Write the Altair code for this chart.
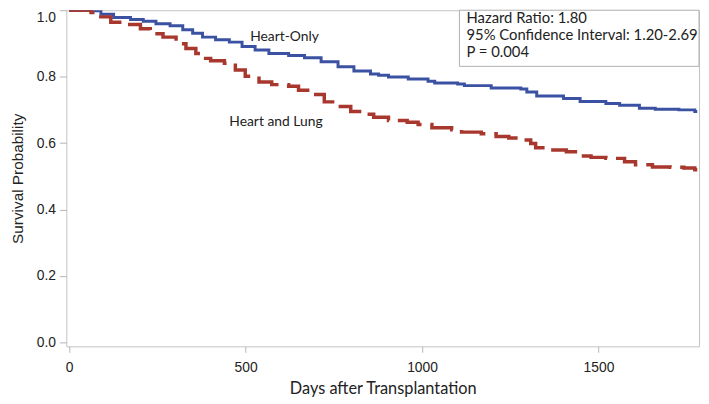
import altair as alt
import pandas as pd

# Kaplan-Meier breakpoints (days, survival)
heart_only_days = [0, 62, 90, 126, 174, 210, 246, 286, 322, 350, 378, 415, 454, 490, 527, 566,
                   622, 667, 714, 762, 807, 854, 877, 905, 961, 1017, 1036, 1101, 1120, 1196,
                   1280, 1297, 1325, 1401, 1448, 1521, 1560, 1616, 1661, 1728, 1773, 1780]
heart_only_surv = [1.0, 0.998, 0.988, 0.978, 0.972, 0.967, 0.959, 0.953, 0.941, 0.931, 0.919,
                   0.911, 0.904, 0.891, 0.880, 0.870, 0.864, 0.857, 0.845, 0.830, 0.817, 0.808,
                   0.804, 0.799, 0.793, 0.786, 0.781, 0.778, 0.773, 0.766, 0.763, 0.754, 0.742,
                   0.734, 0.725, 0.719, 0.714, 0.705, 0.702, 0.700, 0.695, 0.695]

heart_lung_days = [0, 62, 84, 118, 154, 202, 230, 266, 303, 331, 359, 378, 401, 440, 471, 499,
                   538, 574, 622, 650, 686, 723, 762, 798, 832, 863, 905, 958, 989, 1028, 1084,
                   1112, 1168, 1210, 1246, 1289, 1308, 1322, 1359, 1409, 1443, 1479, 1521, 1574,
                   1605, 1653, 1703, 1742, 1773, 1780]
heart_lung_surv = [1.0, 0.993, 0.980, 0.964, 0.957, 0.944, 0.929, 0.919, 0.899, 0.885, 0.870,
                   0.855, 0.848, 0.840, 0.820, 0.801, 0.784, 0.776, 0.771, 0.759, 0.746, 0.724,
                   0.710, 0.695, 0.687, 0.678, 0.668, 0.663, 0.656, 0.646, 0.640, 0.633, 0.628,
                   0.620, 0.615, 0.609, 0.599, 0.586, 0.579, 0.574, 0.561, 0.557, 0.554, 0.544,
                   0.535, 0.528, 0.527, 0.525, 0.520, 0.520]

x_ticks = [0, 500, 1000, 1500]
y_ticks = [0.0, 0.2, 0.4, 0.6, 0.8, 1.0]

curve_labels = ["Heart-Only", "Heart and Lung"]
curve_label_x = [513, 454]
curve_label_y = [0.92, 0.663]

stats_lines = ["Hazard Ratio: 1.80", "95% Confidence Interval: 1.20-2.69", "P = 0.004"]
stats_x = [1126, 1126, 1126]
stats_y = [0.977, 0.926, 0.873]

X_DOMAIN = [-8, 1785]
Y_DOMAIN = [-0.012, 1.0]

blue = "#3b52a3"
red = "#a8372d"
TICK_FONT = "Liberation Sans"
TEXT_FONT = "Lato"

df_blue = pd.DataFrame({"days": heart_only_days, "surv": heart_only_surv})
df_red = pd.DataFrame({"days": heart_lung_days, "surv": heart_lung_surv})
df_lab = pd.DataFrame({"t": curve_labels, "x": curve_label_x, "y": curve_label_y})
df_stats = pd.DataFrame({"t": stats_lines, "x": stats_x, "y": stats_y})
df_box = pd.DataFrame({"x": [1106], "x2": [X_DOMAIN[1]], "y": [0.831], "y2": [Y_DOMAIN[1]]})

xs = alt.Scale(domain=X_DOMAIN, nice=False, zero=False)
ys = alt.Scale(domain=Y_DOMAIN, nice=False, zero=False)

x_axis = alt.Axis(values=x_ticks, format="d", title="Days after Transplantation", grid=False,
                  domain=False, tickSize=6, tickColor="#b5b5b5", labelPadding=8,
                  labelFont=TICK_FONT, labelFontSize=14, labelColor="#222222",
                  titleFont=TEXT_FONT, titleFontSize=16.5, titleFontWeight="normal",
                  titleColor="#222222", titlePadding=7, labelFlush=False)
y_axis = alt.Axis(values=y_ticks, format=".1f", title="Survival Probability", grid=False,
                  domain=False, tickSize=7, tickColor="#b5b5b5", labelPadding=4,
                  labelFont=TICK_FONT, labelFontSize=14, labelColor="#222222",
                  titleFont=TICK_FONT, titleFontSize=15.5, titleFontWeight="normal",
                  titleColor="#222222", titlePadding=11, labelFlush=True)

line_blue = alt.Chart(df_blue).mark_line(interpolate="step-after", color=blue, strokeWidth=3,
                                         clip=True).encode(
    x=alt.X("days:Q", scale=xs, axis=x_axis),
    y=alt.Y("surv:Q", scale=ys, axis=y_axis),
)
line_red = alt.Chart(df_red).mark_line(interpolate="step-after", color=red, strokeWidth=3.5,
                                       strokeDash=[28, 9], clip=True).encode(
    x=alt.X("days:Q", scale=xs),
    y=alt.Y("surv:Q", scale=ys),
)
box = alt.Chart(df_box).mark_rect(fill="white", stroke="#b0b0b0", strokeWidth=1).encode(
    x=alt.X("x:Q", scale=xs), x2="x2:Q",
    y=alt.Y("y:Q", scale=ys), y2="y2:Q",
)
labels = alt.Chart(df_lab).mark_text(align="left", baseline="middle", font=TEXT_FONT,
                                     fontSize=14, color="#222222").encode(
    x=alt.X("x:Q", scale=xs), y=alt.Y("y:Q", scale=ys), text="t:N")
stats = alt.Chart(df_stats).mark_text(align="left", baseline="middle", font=TEXT_FONT,
                                      fontSize=15, color="#222222").encode(
    x=alt.X("x:Q", scale=xs), y=alt.Y("y:Q", scale=ys), text="t:N")

chart = alt.layer(line_blue, line_red, box, labels, stats).properties(
    width=640, height=340,
    autosize=alt.AutoSizeParams(type="none"),
    padding={"left": 59, "top": 0, "right": 2, "bottom": 50},
).configure_view(stroke="#c2c2c2", strokeWidth=1).configure_axis(
    labelFont=TICK_FONT, labelFontSize=14
)

chart.save("out.html", embed_options={"renderer": "svg", "actions": False})
